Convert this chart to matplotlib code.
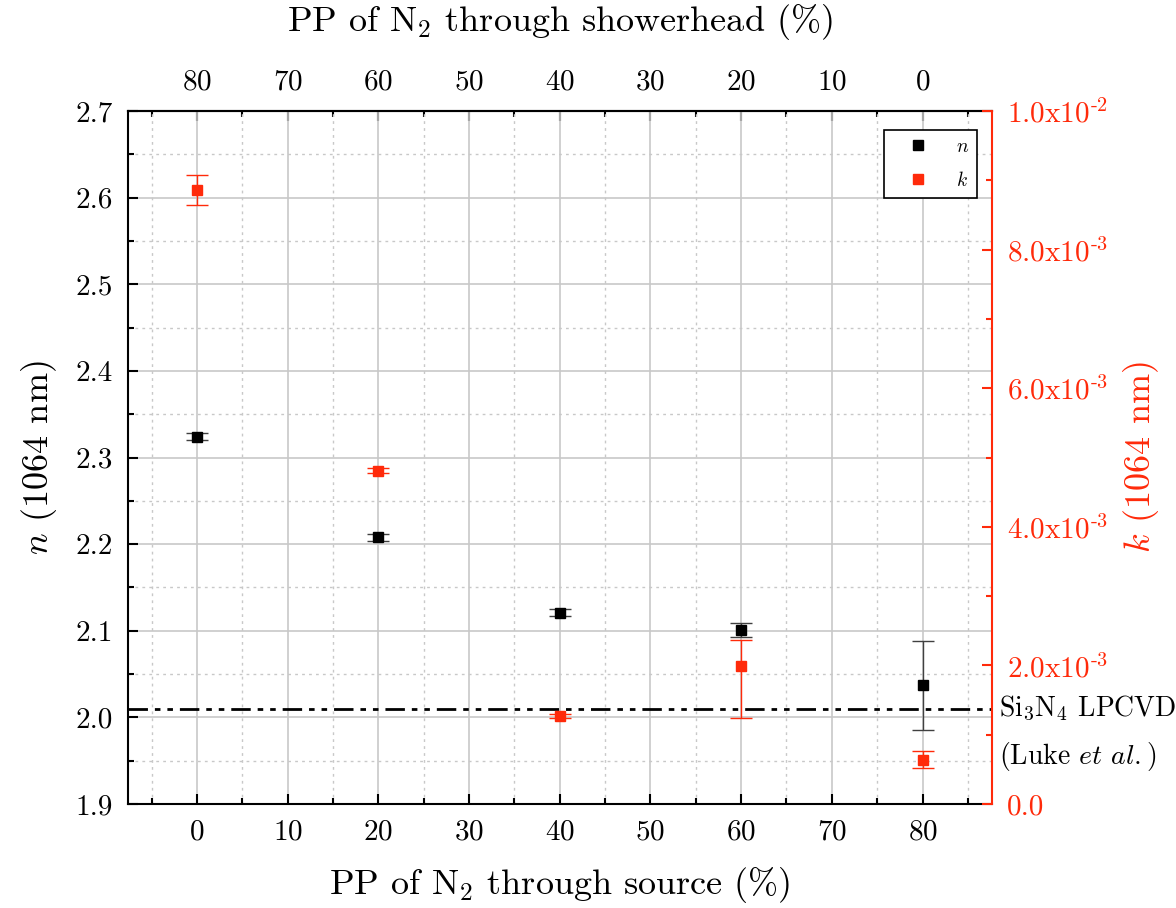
import numpy as np
import matplotlib
matplotlib.use("Agg")
import matplotlib.pyplot as plt
from matplotlib.lines import Line2D
from matplotlib.ticker import MultipleLocator, FixedLocator, FuncFormatter

plt.rcParams['font.family'] = 'serif'
plt.rcParams['font.serif'] = ['cmr10']
plt.rcParams['mathtext.fontset'] = 'cm'
plt.rcParams['axes.formatter.use_mathtext'] = True

# data
pp_source = [0, 20, 40, 60, 80]
n_vals = [2.324, 2.208, 2.121, 2.101, 2.037]
n_err = [0.004, 0.004, 0.004, 0.008, 0.051]
k_vals = [0.00886, 0.00481, 0.00127, 0.00199, 0.00064]
k_err_low = [0.00021, 0.00004, 0.00003, 0.00075, 0.00012]
k_err_high = [0.00021, 0.00004, 0.00003, 0.00038, 0.00013]
luke_n = 2.01

red = '#ff2a0a'
grid_c = '#c8c8c8'
tick_fs = 21

fig = plt.figure(figsize=(11.76, 9.08), dpi=100)
ax = fig.add_axes([0.1088, 0.1145, 0.7347, 0.7632])

ax.errorbar(pp_source, n_vals, yerr=n_err, fmt='s', color='black', ms=6.5,
            ecolor='#404040', elinewidth=1, capsize=8, capthick=1, zorder=5)
ax.axhline(luke_n, color='black', lw=2, dashes=[7, 2.5, 2, 2.5, 2, 2.5], zorder=4)

ax.set_xlim(-7.6, 87.65)
ax.set_ylim(1.9, 2.7)
ax.xaxis.set_major_locator(MultipleLocator(10))
ax.xaxis.set_minor_locator(MultipleLocator(5))
ax.yaxis.set_major_locator(MultipleLocator(0.1))
ax.yaxis.set_minor_locator(MultipleLocator(0.05))
ax.yaxis.set_major_formatter(FuncFormatter(lambda v, p: f'{v:.1f}'))
ax.grid(True, which='major', color=grid_c, lw=1.2)
ax.grid(True, which='minor', color=grid_c, lw=1, linestyle=(0, (2, 3)))
ax.set_axisbelow(True)
ax.tick_params(which='both', direction='in', labelsize=tick_fs, width=1.5, pad=11)
ax.tick_params(which='major', length=7)
ax.tick_params(which='minor', length=4)
ax.tick_params(axis='y', which='both', right=False)
for s in ['left', 'bottom', 'top']:
    ax.spines[s].set_linewidth(1.5)
ax.spines['right'].set_visible(False)

ax.set_xlabel('PP of N$_2$ through source (%)', fontsize=26, labelpad=14)
ax.set_ylabel('$n$ (1064 nm)', fontsize=26, labelpad=12)

top = ax.secondary_xaxis('top', functions=(lambda x: 80 - x, lambda x: 80 - x))
top.set_xticks(list(range(0, 90, 10)))
top.xaxis.set_minor_locator(FixedLocator(list(np.arange(-5, 95, 5))))
top.tick_params(which='both', direction='in', labelsize=tick_fs, width=1.5, pad=11)
top.tick_params(which='major', length=7)
top.tick_params(which='minor', length=4)
top.spines['top'].set_linewidth(1.5)
top.set_xlabel('PP of N$_2$ through showerhead (%)', fontsize=26, labelpad=28)

ax2 = ax.twinx()
ax2.errorbar(pp_source, k_vals, yerr=[k_err_low, k_err_high], fmt='s', color=red, ms=6.5,
             ecolor=red, elinewidth=1, capsize=8, capthick=1, zorder=5)
ax2.set_ylim(0, 0.01)
ax2.yaxis.set_major_locator(MultipleLocator(0.002))
ax2.yaxis.set_minor_locator(MultipleLocator(0.001))


def k_fmt(v, p):
    if abs(v) < 1e-12:
        return '0.0'
    e = int(np.floor(np.log10(abs(v)) + 1e-9))
    m = v / 10 ** e
    return f'{m:.1f}x10$^{{\\text{{-}}{abs(e)}}}$'


ax2.yaxis.set_major_formatter(FuncFormatter(k_fmt))
ax2.tick_params(axis='y', which='both', direction='in', colors=red, labelsize=tick_fs,
                width=1.5, pad=11)
ax2.tick_params(which='major', length=7)
ax2.tick_params(which='minor', length=4)
ax2.spines['right'].set_color(red)
ax2.spines['right'].set_linewidth(1.5)
for s in ['left', 'bottom', 'top']:
    ax2.spines[s].set_visible(False)
ax2.set_ylabel('$k$ (1064 nm)', fontsize=26, color=red, labelpad=9)

handles = [Line2D([], [], marker='s', ls='none', color='black', ms=6.5),
           Line2D([], [], marker='s', ls='none', color=red, ms=6.5)]
leg = ax2.legend(handles, ['$n$', '$k$'], loc='upper right', fontsize=14, fancybox=False,
                 edgecolor='black', framealpha=1, handlelength=2.7, handletextpad=0.6,
                 borderpad=0.4, labelspacing=0.8, borderaxespad=0,
                 bbox_to_anchor=(0.9826, 0.9726))
leg.get_frame().set_linewidth(1.2)

ax.text(1.008, luke_n, 'Si$_3$N$_4$ LPCVD', transform=ax.get_yaxis_transform(),
        fontsize=20, va='center', ha='left')
ax.text(1.008, luke_n - 0.055, '(Luke $et$ $al.$)', transform=ax.get_yaxis_transform(),
        fontsize=20, va='center', ha='left')

fig.savefig('out.png', dpi=100)
